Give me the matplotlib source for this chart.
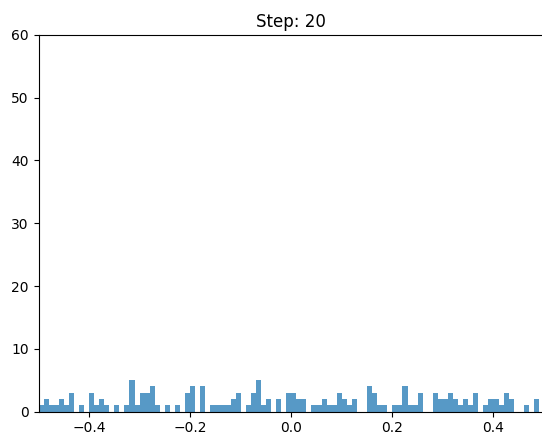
import numpy as np
import matplotlib
matplotlib.use("Agg")
import matplotlib.pyplot as plt

# Histogram counts for 100 equal bins between -0.5 and 0.5
bin_low = -0.5
bin_high = 0.5
counts = [
    1, 2, 1, 1, 2, 1, 3, 0, 1, 0,
    3, 1, 2, 1, 0, 1, 0, 1, 5, 1,
    3, 3, 4, 1, 0, 1, 0, 1, 0, 3,
    4, 0, 4, 0, 1, 1, 1, 1, 2, 3,
    0, 1, 3, 5, 1, 2, 0, 2, 0, 3,
    3, 2, 2, 0, 1, 1, 2, 1, 1, 3,
    2, 1, 2, 0, 0, 4, 3, 1, 1, 0,
    1, 1, 4, 1, 1, 3, 0, 0, 3, 2,
    2, 3, 2, 1, 2, 1, 3, 0, 1, 2,
    2, 1, 3, 2, 0, 0, 1, 0, 2, 0,
]
x_ticks = [-0.4, -0.2, 0.0, 0.2, 0.4]
y_ticks = [0, 10, 20, 30, 40, 50, 60]
title = "Step: 20"

edges = np.linspace(bin_low, bin_high, len(counts) + 1)

fig = plt.figure(figsize=(5.42, 4.36), dpi=100)
ax = fig.add_axes([38.5 / 542, 24.5 / 436, 505.5 / 542, 376.5 / 436])
ax.bar(edges[:-1], counts, width=np.diff(edges), align="edge",
       color="#1f77b4", alpha=0.75, linewidth=0)
ax.set_xlim(bin_low, bin_high)
ax.set_ylim(0, 60)
ax.set_xticks(x_ticks)
ax.set_yticks(y_ticks)
ax.set_title(title, fontsize=12)
fig.savefig("out.png", dpi=100)
